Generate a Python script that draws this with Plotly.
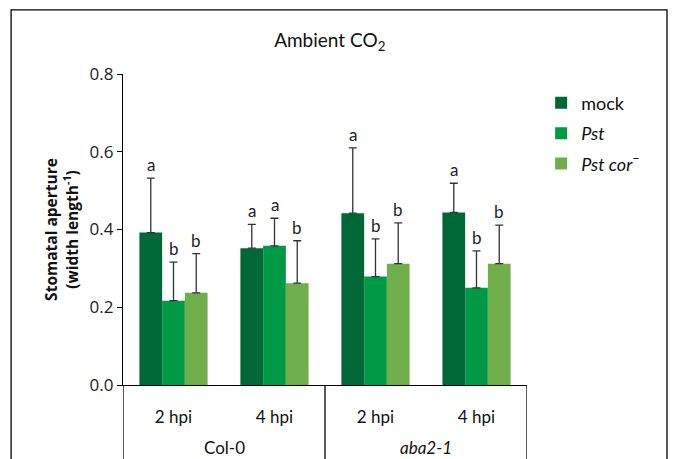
import plotly.graph_objects as go

# ---- data ----
time_labels = ["2 hpi", "4 hpi", "2 hpi", "4 hpi"]
genotypes = ["Col-0", "<i>aba2-1</i>"]
series_names = ["mock", "<i>Pst</i>", "<i>Pst cor</i><sup>−</sup>"]
mock_vals = [0.392, 0.352, 0.442, 0.444]
mock_err = [0.140, 0.061, 0.168, 0.075]
pst_vals = [0.217, 0.358, 0.279, 0.250]
pst_err = [0.099, 0.071, 0.097, 0.095]
cor_vals = [0.237, 0.262, 0.312, 0.312]
cor_err = [0.101, 0.109, 0.105, 0.099]
mock_letters = ["a", "a", "a", "a"]
pst_letters = ["b", "a", "b", "b"]
cor_letters = ["b", "b", "b", "b"]
colors = ["#006837", "#009A46", "#70AD4B"]

vals = [mock_vals, pst_vals, cor_vals]
errs = [mock_err, pst_err, cor_err]
letters = [mock_letters, pst_letters, cor_letters]

NARROW = "Lato, Open Sans"
bar_w = 0.225
cats = list(range(len(time_labels)))

fig = go.Figure()
annotations = []
for i, name in enumerate(series_names):
    xs = [c + (i - 1) * bar_w for c in cats]
    fig.add_trace(go.Bar(
        x=xs, y=vals[i], width=bar_w, name=name,
        marker=dict(color=colors[i], line=dict(width=0)),
        legendgroup=str(i),
        error_y=dict(type="data", symmetric=False, array=errs[i],
                     arrayminus=[0] * len(cats), color="#333333",
                     thickness=1.3, width=4),
    ))
    for x, v, e, t in zip(xs, vals[i], errs[i], letters[i]):
        annotations.append(dict(x=x, y=v + e, text=t, showarrow=False,
                                yanchor="bottom", yshift=1, xref="x", yref="y",
                                font=dict(size=17, color="#222", family=NARROW)))

# genotype labels
for g, label in enumerate(genotypes):
    annotations.append(dict(x=2 * g + 0.5, y=-0.2, xref="x", yref="paper",
                            text=label, showarrow=False, yanchor="middle",
                            font=dict(size=17, color="#111", family=NARROW)))

shapes = []
# group dividers
for xb in [-0.5, 1.5, 3.5]:
    shapes.append(dict(type="line", xref="x", yref="paper", x0=xb, x1=xb,
                       y0=0, y1=-0.3, line=dict(color="black", width=1.3)))
# outer frame
shapes.append(dict(type="rect", xref="paper", yref="paper",
                   x0=-0.277, x1=1.3465, y0=-0.35, y1=1.206,
                   line=dict(color="black", width=1.3)))

fig.update_layout(
    width=673, height=459,
    margin=dict(l=123, r=146, t=74, b=74, autoexpand=False),
    paper_bgcolor="white", plot_bgcolor="white",
    barmode="overlay",
    title=dict(text="Ambient CO<sub>2</sub>", x=0.49, xanchor="center",
               y=0.913, yanchor="middle",
               font=dict(size=19, color="#111", family=NARROW)),
    xaxis=dict(range=[-0.5, 3.5], tickvals=cats, ticktext=time_labels,
               showline=True, linecolor="black", linewidth=1.3, automargin=False,
               showgrid=False, zeroline=False, ticks="outside", ticklen=16,
               tickcolor="rgba(0,0,0,0)",
               tickfont=dict(size=17, color="#111", family=NARROW)),
    yaxis=dict(range=[0, 0.8], tickvals=[0, 0.2, 0.4, 0.6, 0.8],
               ticktext=["0.0", "0.2", "0.4", "0.6", "0.8"],
               showline=True, linecolor="black", linewidth=1.3, automargin=False,
               showgrid=False, zeroline=False, ticks="outside", ticklen=5,
               tickcolor="black", tickwidth=1.3,
               tickfont=dict(size=17, color="#222", family="Open Sans"),
               title=dict(text="<b>Stomatal aperture<br>(width length<sup>-1</sup>)</b>",
                          standoff=7,
                          font=dict(size=15.5, color="#111", family="Open Sans"))),
    legend=dict(x=1.035, y=0.966, xanchor="left", yanchor="top",
                font=dict(size=18, color="#111", family=NARROW),
                tracegroupgap=4, itemwidth=30, bgcolor="rgba(0,0,0,0)"),
    annotations=annotations,
    shapes=shapes,
)

fig.write_html("out.html", config={"displayModeBar": False},
               post_script="document.body.style.margin='0';document.body.style.overflow='hidden';")
